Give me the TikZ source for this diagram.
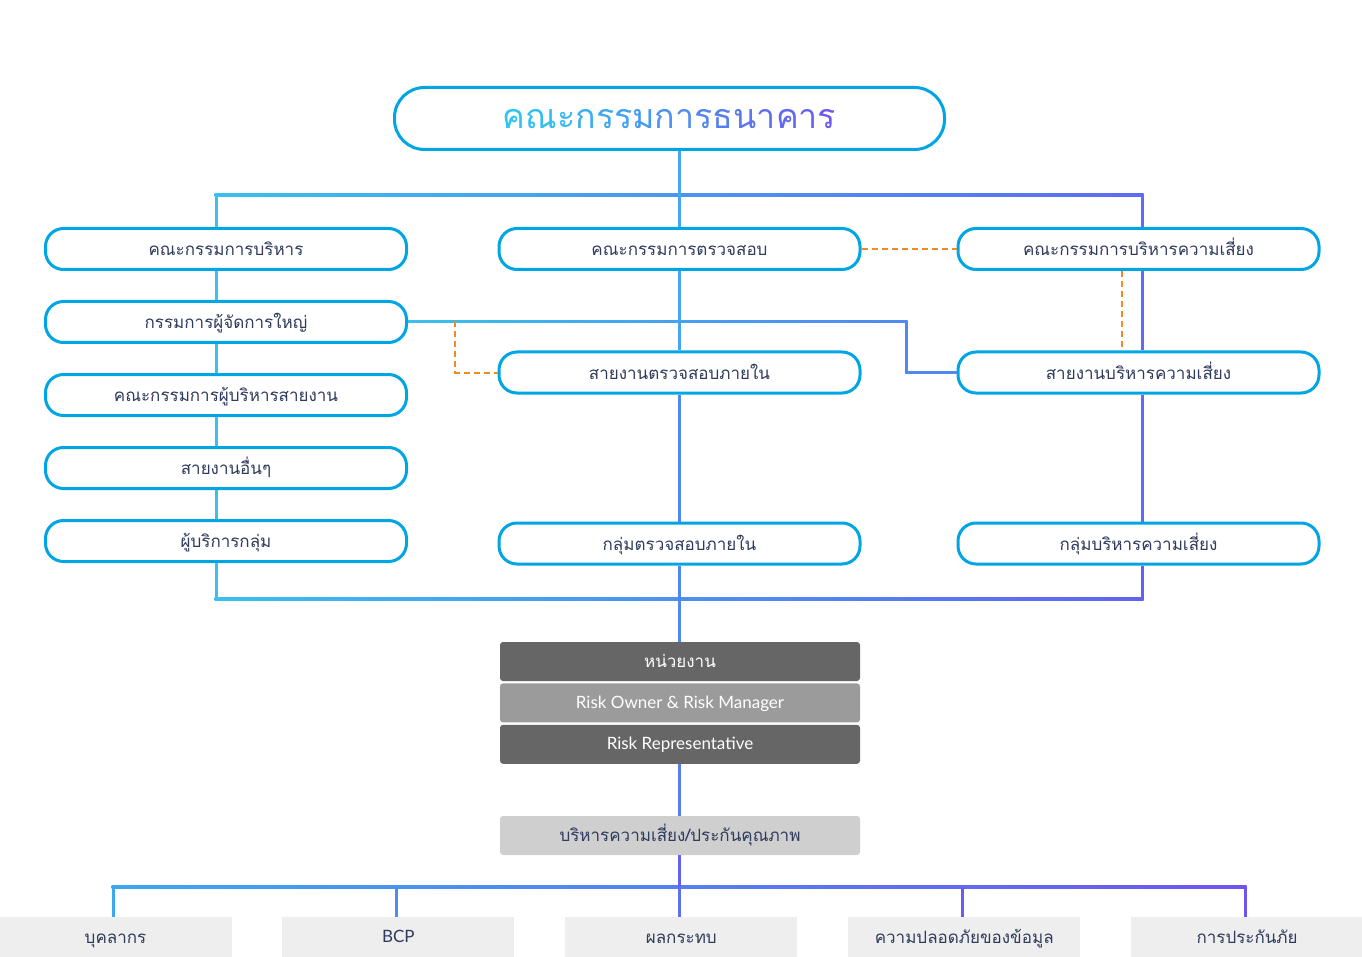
\documentclass[tikz,border=0pt]{standalone}
\usepackage{fontspec}
\setmainfont{Loma}[Script=Thai]
\newfontfamily\latinfont{Lato}
\usetikzlibrary{positioning}

\definecolor{boxLine}{HTML}{00A5E3}
\definecolor{labelText}{HTML}{2F3A5C}
\definecolor{lineA}{HTML}{38C0EE}
\definecolor{lineB}{HTML}{46A4F0}
\definecolor{lineC}{HTML}{5E6BF2}
\definecolor{lineD}{HTML}{4F88F0}
\definecolor{lineE}{HTML}{5A7CF0}
\definecolor{lineF}{HTML}{6262F2}
\definecolor{fanA}{HTML}{3CA8F0}
\definecolor{fanB}{HTML}{4F8CF0}
\definecolor{fanC}{HTML}{5C70F2}
\definecolor{fanD}{HTML}{6A5CF2}
\definecolor{fanE}{HTML}{6E55F2}
\definecolor{dashLine}{HTML}{F08A24}
\definecolor{unitDark}{HTML}{666666}
\definecolor{unitMid}{HTML}{9B9B9B}
\definecolor{unitLight}{HTML}{CFCFCF}
\definecolor{topicFill}{HTML}{EEEEEE}
\definecolor{titleA}{HTML}{2EC6F0}
\definecolor{titleB}{HTML}{6A5AF2}

% one letter of the board title, coloured along the gradient
\newcommand\boardChar[2]{\textcolor{titleB!#1!titleA}{#2}}
\newcommand\boardTitle{\boardChar{0}{ค}\boardChar{7}{ณ}\boardChar{13}{ะ}\boardChar{20}{ก}\boardChar{27}{ร}\boardChar{33}{ร}\boardChar{40}{ม}\boardChar{47}{ก}\boardChar{53}{า}\boardChar{60}{ร}\boardChar{67}{ธ}\boardChar{73}{น}\boardChar{80}{า}\boardChar{87}{ค}\boardChar{93}{า}\boardChar{100}{ร}}

\tikzset{
	committee/.style={draw=boxLine, line width=3pt, fill=white, rounded corners=18pt,
		minimum width=361pt, minimum height=41pt, inner sep=0pt,
		text height=13pt, text depth=0pt,
		text=labelText, font=\fontsize{17}{19}\selectfont},
	board/.style={committee, minimum width=550pt, minimum height=62pt,
		rounded corners=30pt, text height=20pt, font=\fontsize{34}{38}\selectfont},
	unit/.style={fill=unitDark, rounded corners=3pt, minimum width=360pt,
		minimum height=39pt, inner sep=0pt, text height=12pt, text depth=0pt,
		text=white, font=\fontsize{17}{19}\selectfont},
	latinUnit/.style={unit, text height=10.5pt, font=\fontsize{17}{19}\latinfont},
	topic/.style={fill=topicFill, minimum width=232pt, minimum height=40pt,
		inner sep=0pt, text height=12pt, text depth=0pt,
		text=labelText, font=\fontsize{17}{19}\selectfont},
	link/.style={line width=3pt},
	dotLink/.style={draw=dashLine, line width=2pt, dash pattern=on 6pt off 4pt},
}

\begin{document}
\begin{tikzpicture}[x=1pt, y=-1pt]
	\useasboundingbox (0,0) rectangle (1362,957);

	\node[board] (board) at (669.5,118.5) {\boardTitle};

	\node[committee] (exec) at (226,249) {คณะกรรมการบริหาร};
	\node[committee] (ceo) [below=29pt of exec] {กรรมการผู้จัดการใหญ่};
	\node[committee] (mgmt) [below=29pt of ceo] {คณะกรรมการผู้บริหารสายงาน};
	\node[committee] (other) [below=29pt of mgmt] {สายงานอื่นๆ};
	\node[committee] (grp) [below=29pt of other] {ผู้บริการกลุ่ม};

	\node[committee] (audit) at (679.5,249) {คณะกรรมการตรวจสอบ};
	\node[committee] (iad) [below=79.5pt of audit] {สายงานตรวจสอบภายใน};
	\node[committee] (iag) [below=127pt of iad] {กลุ่มตรวจสอบภายใน};

	\node[committee] (riskc) at (1138.5,249) {คณะกรรมการบริหารความเสี่ยง};
	\node[committee] (riskd) [below=79.5pt of riskc] {สายงานบริหารความเสี่ยง};
	\node[committee] (riskg) [below=127pt of riskd] {กลุ่มบริหารความเสี่ยง};

	\node[unit] (unitHead) at (680,661.5) {หน่วยงาน};
	\node[latinUnit, fill=unitMid] (owner) [below=2pt of unitHead] {Risk Owner \& Risk Manager};
	\node[latinUnit] (rep) [below=2pt of owner] {Risk Representative};
	\node[unit, fill=unitLight, text=labelText] (qa) at (680,835.5) {บริหารความเสี่ยง/ประกันคุณภาพ};

	\node[topic] (staff) at (115.5,937) {บุคลากร};
	\node[topic, text height=10.5pt, font=\fontsize{17}{19}\latinfont] (bcp) [right=50.5pt of staff] {BCP};
	\node[topic] (impact) [right=50.5pt of bcp] {ผลกระทบ};
	\node[topic] (infosec) [right=50.5pt of impact] {ความปลอดภัยของข้อมูล};
	\node[topic] (insure) [right=50.5pt of infosec] {การประกันภัย};

	\coordinate (busL) at (216,195);
	\coordinate (busM) at (679,195);
	\coordinate (busR) at (1142,195);
	\coordinate (baseL) at (216,599);
	\coordinate (baseR) at (1142,599);
	\coordinate (turn) at (906,321);
	\coordinate (tap) at (455,321);
	\coordinate (fan) at (679,887);
	\coordinate (fanL) at (113,887);
	\coordinate (fanR) at (1245,887);

	% buses
	\shade[left color=lineA, right color=lineC] ([xshift=-1.5pt,yshift=1.5pt]busL) rectangle ([xshift=1.5pt,yshift=-1.5pt]busR);
	\shade[left color=lineA, right color=lineF] ([xshift=-1.5pt,yshift=1.5pt]baseL) rectangle ([xshift=1.5pt,yshift=-1.5pt]baseR);
	\shade[left color=fanA, right color=fanE] ([xshift=-1.5pt,yshift=1.5pt]fanL) rectangle ([xshift=1.5pt,yshift=-1.5pt]fanR);
	\shade[left color=lineA, right color=lineD] ([yshift=1.5pt]ceo.east) rectangle ([xshift=1.5pt,yshift=-1.5pt]turn);

	% left column
	\draw[link, lineA] (busL) -- (busL |- exec.north);
	\foreach \a/\b in {exec/ceo, ceo/mgmt, mgmt/other, other/grp}
		\draw[link, lineA] (busL |- \a.south) -- (busL |- \b.north);
	\draw[link, lineA] (busL |- grp.south) -- (baseL);

	% middle column
	\draw[link, lineB] (busM |- board.south) -- (busM |- audit.north);
	\draw[link, lineB] (busM |- audit.south) -- (busM |- iad.north);
	\draw[link, lineD] (busM |- iad.south) -- (busM |- iag.north);
	\draw[link, lineD] (busM |- iag.south) -- (busM |- unitHead.north);
	\draw[link, lineE] (busM |- rep.south) -- (busM |- qa.north);
	\draw[link, lineF] (busM |- qa.south) -- (fan);

	% right column
	\draw[link, lineC] (busR) -- (busR |- riskc.north);
	\draw[link, lineC] (busR |- riskc.south) -- (busR |- riskd.north);
	\draw[link, lineC] (busR |- riskd.south) -- (busR |- riskg.north);
	\draw[link, lineF] (busR |- riskg.south) -- (baseR);

	% managing director to risk division
	\draw[link, lineD] (turn) |- (riskd.west);

	% topics
	\foreach \t/\c in {staff/fanA, bcp/fanB, impact/fanC, infosec/fanD, insure/fanE}{
		\coordinate (drop) at ([xshift=-2pt]\t.north);
		\draw[link, \c] (drop |- fan) -- (drop);
	}

	% dashed lines
	\draw[dotLink] (audit.east) -- (riskc.west);
	\draw[dotLink] ([xshift=-16.5pt]riskc.south) -- ([xshift=-16.5pt]riskd.north);
	\draw[dotLink] (tap) |- (iad.west);
\end{tikzpicture}
\end{document}
